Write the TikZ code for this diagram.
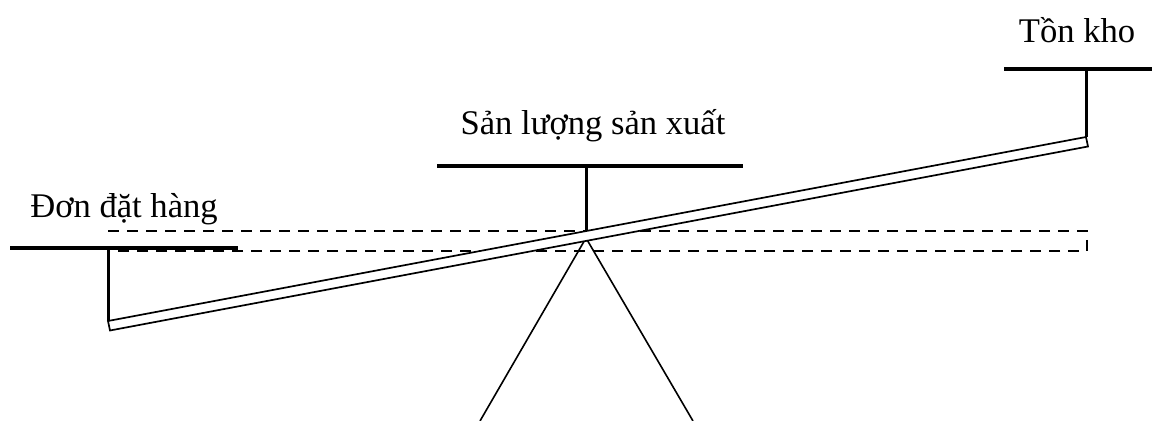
\documentclass[tikz,border=0pt]{standalone}
\usepackage{fontspec}
\setmainfont{Liberation Serif}
\usepackage{tikz}
\usetikzlibrary{positioning, calc}
\definecolor{Ink}{HTML}{000000}

\begin{document}
\begin{tikzpicture}[
  x=0.5pt, y=-0.5pt,
  label/.style={font=\fontsize{17.3}{20}\selectfont, text=Ink, inner sep=0pt, anchor=base},
  bar/.style={draw=Ink, line width=2pt},
  hanger/.style={draw=Ink, line width=1.5pt},
  plank/.style={draw=Ink, line width=0.85pt, fill=white, line join=miter},
  guide/.style={draw=Ink, line width=0.9pt, dash pattern=on 5.5pt off 4pt},
  stand/.style={draw=Ink, line width=0.8pt}
]
\useasboundingbox (0,0) rectangle (1152,421);
\clip (0,0) rectangle (1152,421);

% levels
\coordinate (guideA) at (108,231);
\coordinate (guideB) at (1087,231);
\coordinate (guideC) at (1087,251);
\coordinate (guideD) at (108,251);

% pans
\coordinate (orderL) at (10,248);   \coordinate (orderR) at (238,248);
\coordinate (outputL) at (437,166); \coordinate (outputR) at (743,166);
\coordinate (stockL) at (1004,69);  \coordinate (stockR) at (1152,69);

% beam
\coordinate (beamA) at (108,321);
\coordinate (beamB) at (1086,137);
\coordinate (beamC) at (1088,146.5);
\coordinate (beamD) at (110,330.5);
\coordinate (pivot) at (586,231);

% stand
\coordinate (apex) at (586,238);
\coordinate (footL) at (480,421);
\coordinate (footR) at (693,421);

\draw[stand] (footL) -- (apex) -- (footR);
\draw[guide] (guideA) -- (guideB) -- (guideC) -- (guideD);
\draw[plank] (beamA) -- (beamB) -- (beamC) -- (beamD) -- cycle;

\draw[hanger] (108,248) -- (beamA);
\draw[hanger] (586,166) -- (pivot);
\draw[hanger] (1086,69) -- (beamB);

\draw[bar] (orderL) -- (orderR);
\draw[bar] (outputL) -- (outputR);
\draw[bar] (stockL) -- (stockR);

\node[label] (order) at (124,218) {Đơn đặt hàng};
\node[label] (output) at (593,135) {Sản lượng sản xuất};
\node[label] (stock) at (1077,43) {Tồn kho};
\end{tikzpicture}
\end{document}
